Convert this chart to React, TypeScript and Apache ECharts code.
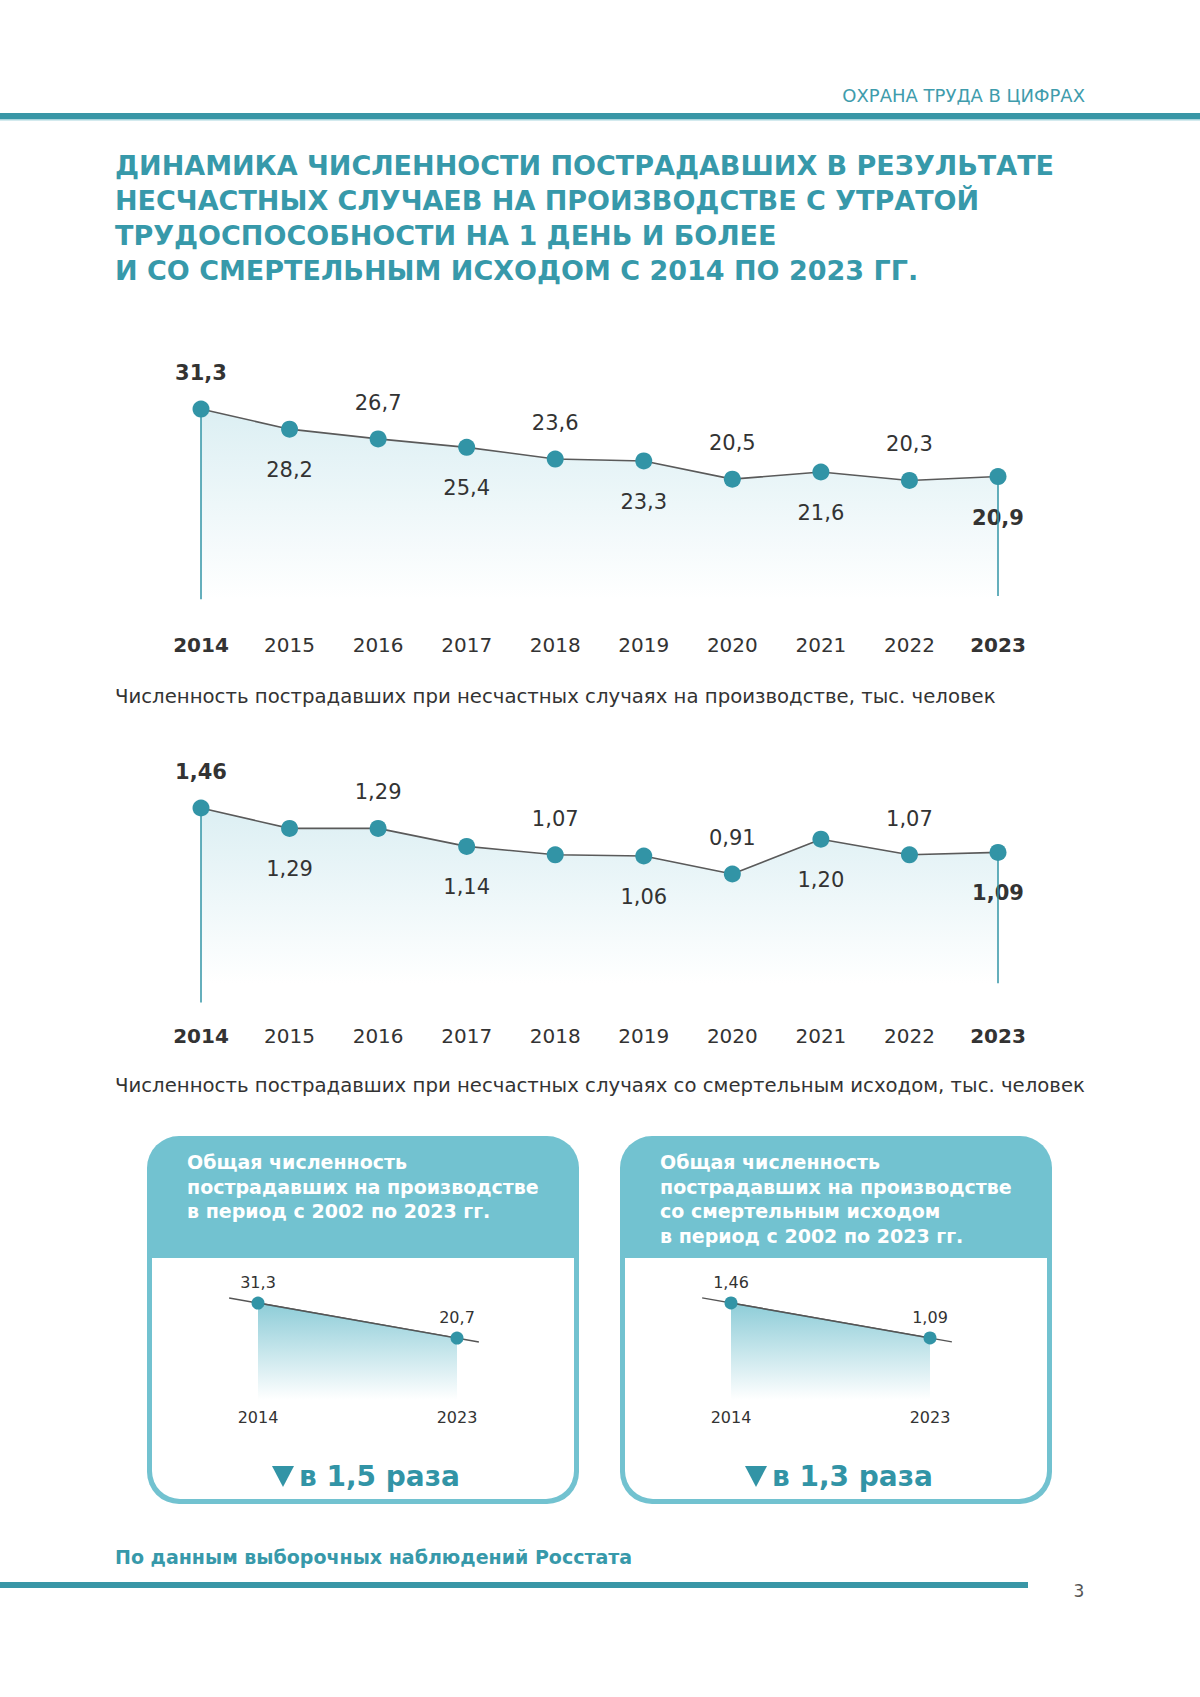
import React, { useEffect, useRef } from 'react';
import * as echarts from 'echarts';

const years = ['2014', '2015', '2016', '2017', '2018', '2019', '2020', '2021', '2022', '2023'];
const injured = [31.3, 28.2, 26.7, 25.4, 23.6, 23.3, 20.5, 21.6, 20.3, 20.9];
const fatal = [1.46, 1.29, 1.29, 1.14, 1.07, 1.06, 0.91, 1.2, 1.07, 1.09];
const labelSide = ['top', 'bottom', 'top', 'bottom', 'top', 'bottom', 'top', 'bottom', 'top', 'bottom'];

const miniYears = ['2014', '2023'];
const miniInjured = [31.3, 20.7];
const miniFatal = [1.46, 1.09];
const ratios = ['в 1,5 раза', 'в 1,3 раза'];

const headerText = 'ОХРАНА ТРУДА В ЦИФРАХ';
const titleLines = [
  'ДИНАМИКА ЧИСЛЕННОСТИ ПОСТРАДАВШИХ В РЕЗУЛЬТАТЕ',
  'НЕСЧАСТНЫХ СЛУЧАЕВ НА ПРОИЗВОДСТВЕ С УТРАТОЙ',
  'ТРУДОСПОСОБНОСТИ НА 1 ДЕНЬ И БОЛЕЕ',
  'И СО СМЕРТЕЛЬНЫМ ИСХОДОМ С 2014 ПО 2023 ГГ.',
];
const caption1 = 'Численность пострадавших при несчастных случаях на производстве, тыс. человек';
const caption2 = 'Численность пострадавших при несчастных случаях со смертельным исходом, тыс. человек';
const card1Lines = ['Общая численность', 'пострадавших на производстве', 'в период с 2002 по 2023 гг.'];
const card2Lines = ['Общая численность', 'пострадавших на производстве', 'со смертельным исходом', 'в период с 2002 по 2023 гг.'];
const footerText = 'По данным выборочных наблюдений Росстата';
const pageNumber = '3';

const FONT = "'DejaVu Sans', sans-serif";
const TEAL = '#3294a6';
const TITLE = '#3799aa';
const CARD = '#72c2d0';
const DARK = '#333333';

function fmt(v: number, d: number) {
  return v.toFixed(d).replace('.', ',');
}

function mainSeries(data: number[], d: number, idx: number, drop: [number, number]) {
  const last = data.length - 1;
  return {
    type: 'line',
    xAxisIndex: idx,
    yAxisIndex: idx,
    data: data.map((v, i) => ({
      value: v,
      label: {
        position: labelSide[i],
        distance: labelSide[i] === 'top' ? 17 : 22,
        fontWeight: i === 0 || i === last ? 'bold' : 'normal',
      },
    })),
    symbol: 'circle',
    symbolSize: 17,
    itemStyle: { color: TEAL },
    lineStyle: { color: '#5a5a5a', width: 1.6 },
    areaStyle: {
      color: new echarts.graphic.LinearGradient(0, 0, 0, 1, [
        { offset: 0, color: '#cde8ee' },
        { offset: 1, color: '#ffffff' },
      ]),
    },
    label: {
      show: true,
      fontFamily: FONT,
      fontSize: 21,
      color: DARK,
      formatter: (p: any) => fmt(p.value, d),
    },
    markLine: {
      symbol: 'none',
      silent: true,
      label: { show: false },
      lineStyle: { color: TEAL, width: 1.5, type: 'solid' },
      data: [
        [{ coord: [years[0], data[0]] }, { coord: [years[0], drop[0]] }],
        [{ coord: [years[last], data[last]] }, { coord: [years[last], drop[1]] }],
      ],
    },
    z: 3,
  };
}

function miniSeries(data: number[], d: number, idx: number) {
  return {
    type: 'line',
    xAxisIndex: idx,
    yAxisIndex: idx,
    data,
    symbol: 'circle',
    symbolSize: 13,
    itemStyle: { color: TEAL },
    lineStyle: { color: '#555555', width: 1.4 },
    areaStyle: {
      color: new echarts.graphic.LinearGradient(0, 0, 0, 1, [
        { offset: 0, color: '#5db7c7' },
        { offset: 1, color: '#ffffff' },
      ]),
    },
    label: {
      show: true,
      position: 'top',
      distance: 6,
      fontFamily: FONT,
      fontSize: 16,
      color: DARK,
      formatter: (p: any) => fmt(p.value, d),
    },
    z: 4,
  };
}

function xAxisFor(idx: number, cats: string[], big: boolean, margin: number) {
  const last = cats.length - 1;
  return {
    type: 'category',
    gridIndex: idx,
    data: cats,
    boundaryGap: false,
    axisLine: { show: false },
    axisTick: { show: false },
    splitLine: { show: false },
    axisLabel: {
      margin,
      fontFamily: FONT,
      fontSize: big ? 20 : 16,
      color: DARK,
      interval: 0,
      formatter: big ? (v: string, i: number) => (i === 0 || i === last ? `{b|${v}}` : v) : undefined,
      rich: big ? { b: { fontFamily: FONT, fontSize: 20, fontWeight: 'bold', color: DARK } } : undefined,
    },
  };
}

export default function App() {
  const ref = useRef<HTMLDivElement>(null);
  useEffect(() => {
    const chart = echarts.init(ref.current!, null, { renderer: 'svg', width: 1200, height: 1697 });

    const text = (x: number, y: number, t: string, o: any = {}) => ({
      type: 'text',
      x,
      y,
      style: {
        text: t,
        fontFamily: FONT,
        fontSize: o.fontSize ?? 18,
        fontWeight: o.fontWeight ?? 'normal',
        fill: o.fill ?? DARK,
        align: o.align ?? 'left',
        verticalAlign: 'middle',
      },
    });

    const cardGraphics = (x0: number, lines: string[], ratio: string) => {
      const w = 432;
      const els: any[] = [
        { type: 'rect', shape: { x: x0, y: 1136, width: w, height: 368, r: 32 }, style: { fill: CARD } },
        { type: 'rect', shape: { x: x0 + 5, y: 1258, width: w - 10, height: 241, r: [0, 0, 28, 28] }, style: { fill: '#ffffff' } },
      ];
      lines.forEach((l, i) => {
        els.push(text(x0 + 40, 1162 + i * 24.5, l, { fontSize: 19, fontWeight: 'bold', fill: '#ffffff' }));
      });
      const cx = x0 + 125;
      els.push({
        type: 'polygon',
        shape: { points: [[cx, 1466], [cx + 22, 1466], [cx + 11, 1487]] },
        style: { fill: TEAL },
      });
      els.push(text(cx + 27, 1476, ratio, { fontSize: 28, fontWeight: 'bold', fill: TEAL }));
      return els;
    };

    const baseGraphics: any[] = [
      text(1085, 95, headerText, { fontSize: 18, fill: '#3f9cac', align: 'right' }),
      { type: 'rect', shape: { x: 0, y: 113, width: 1200, height: 6 }, style: { fill: '#3996a6' } },
      { type: 'rect', shape: { x: 0, y: 119, width: 1200, height: 1.5 }, style: { fill: '#a8d5dd' } },
      ...titleLines.map((l, i) => text(115, 165 + i * 35, l, { fontSize: 27, fontWeight: 'bold', fill: TITLE })),
      text(115, 696, caption1, { fontSize: 19.7 }),
      text(115, 1085, caption2, { fontSize: 19.7 }),
      ...cardGraphics(147, card1Lines, ratios[0]),
      ...cardGraphics(620, card2Lines, ratios[1]),
      text(115, 1557, footerText, { fontSize: 19, fontWeight: 'bold', fill: TITLE }),
      { type: 'rect', shape: { x: 0, y: 1582, width: 1028, height: 6 }, style: { fill: '#3996a6' } },
      text(1079, 1591, pageNumber, { fontSize: 17, fill: '#555555', align: 'center' }),
    ];

    const option: any = {
      animation: false,
      backgroundColor: '#ffffff',
      grid: [
        { left: 201, width: 797, top: 404.5, height: 194.7 },
        { left: 201, width: 797, top: 803.2, height: 199.2 },
        { left: 258, width: 199, top: 1290, height: 110 },
        { left: 731, width: 199, top: 1290, height: 110 },
      ],
      xAxis: [
        xAxisFor(0, years, true, 36),
        xAxisFor(1, years, true, 24),
        xAxisFor(2, miniYears, false, 9),
        xAxisFor(3, miniYears, false, 9),
      ],
      yAxis: [
        { type: 'value', gridIndex: 0, min: 2, max: 32, show: false },
        { type: 'value', gridIndex: 1, min: -0.16, max: 1.5, show: false },
        { type: 'value', gridIndex: 2, min: 2, max: 35.24, show: false },
        { type: 'value', gridIndex: 3, min: 0.435, max: 1.597, show: false },
      ],
      series: [
        mainSeries(injured, 1, 0, [2, 2.5]),
        mainSeries(fatal, 2, 1, [-0.16, 0]),
        miniSeries(miniInjured, 1, 2),
        miniSeries(miniFatal, 2, 3),
      ],
      graphic: { elements: baseGraphics },
    };
    chart.setOption(option);

    const ext = (si: number, vals: number[]) => {
      const a = chart.convertToPixel({ seriesIndex: si }, [miniYears[0], vals[0]]) as number[];
      const b = chart.convertToPixel({ seriesIndex: si }, [miniYears[1], vals[1]]) as number[];
      const dx = b[0] - a[0];
      const dy = b[1] - a[1];
      return {
        type: 'line',
        z: 1,
        shape: { x1: a[0] - dx * 0.145, y1: a[1] - dy * 0.145, x2: b[0] + dx * 0.11, y2: b[1] + dy * 0.11 },
        style: { stroke: '#555555', lineWidth: 1.4 },
      };
    };
    chart.setOption({ graphic: { elements: [...baseGraphics, ext(2, miniInjured), ext(3, miniFatal)] } });

    return () => chart.dispose();
  }, []);
  return (
    <div
      ref={ref}
      style={{ position: 'absolute', left: 0, top: 0, width: 1200, height: 1697, background: '#ffffff' }}
    />
  );
}
